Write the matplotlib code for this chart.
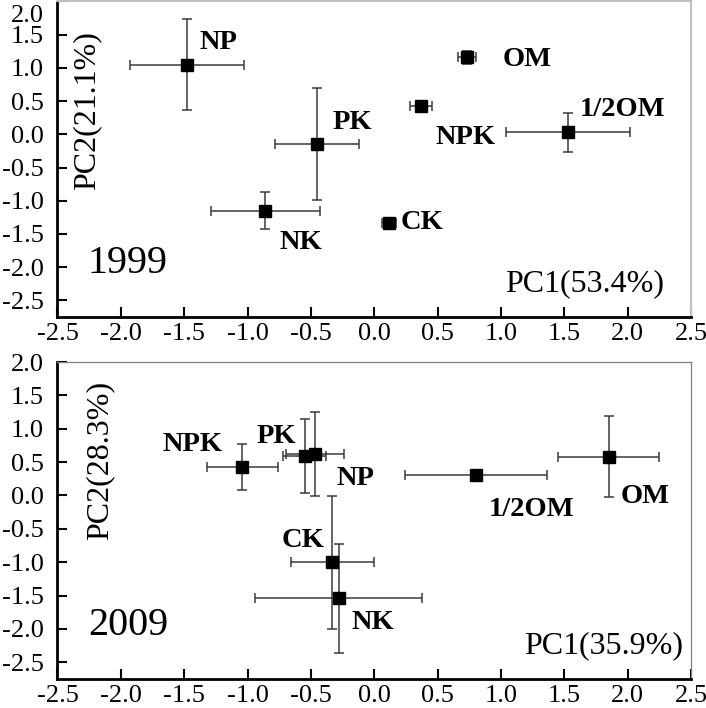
import matplotlib.pyplot as plt
import matplotlib.transforms as mtransforms
import numpy as np

plt.rcParams["font.family"] = ["Liberation Serif", "DejaVu Serif"]
plt.rcParams["axes.unicode_minus"] = False

# <---------------- 1999 ---------------->
names_99 = ["NP", "PK", "NK", "OM", "NPK", "1/2OM", "CK"]
pc1_99 = [-1.48, -0.45, -0.86, 0.73, 0.37, 1.53, 0.12]
pc2_99 = [1.05, -0.15, -1.15, 1.16, 0.43, 0.03, -1.33]
pc1_err_99 = [0.45, 0.33, 0.43, 0.07, 0.085, 0.49, 0.055]
pc2_err_99 = [0.69, 0.84, 0.28, 0.10, 0.05, 0.29, 0.04]

# <---------------- 2009 ---------------->
names_09 = ["NPK", "PK", "NP", "CK", "NK", "1/2OM", "OM"]
pc1_09 = [-1.04, -0.55, -0.47, -0.33, -0.28, 0.80, 1.85]
pc2_09 = [0.42, 0.59, 0.62, -1.00, -1.54, 0.31, 0.58]
pc1_err_09 = [0.28, 0.17, 0.23, 0.33, 0.66, 0.56, 0.40]
pc2_err_09 = [0.345, 0.56, 0.63, 0.995, 0.82, 0.06, 0.61]

xticks = np.arange(-2.5, 2.51, 0.5)
yticks = np.arange(-2.5, 2.01, 0.5)

# label positions (layout)
lab_99 = [(-1.23, 1.38), (-0.17, 0.18), (-0.58, -1.63), (1.21, 1.12),
          (0.72, -0.05), (1.96, 0.37), (0.38, -1.33)]
lab_09 = [(-1.43, 0.76), (-0.77, 0.89), (-0.15, 0.26), (-0.56, -0.68),
          (-0.01, -1.91), (1.24, -0.21), (2.14, -0.01)]


def panel(ax, x, y, xerr, yerr, names, labpos, year, pc1, pc2,
          frame_color, frame_lw, pc1_x, pc2_x, pc2_y):
    ax.errorbar(x, y, xerr=xerr, yerr=yerr, fmt="s", color="black",
                markersize=9, ecolor="#3a3a3a", elinewidth=1.1,
                capsize=3.5, capthick=1.1)
    for name, (lx, ly) in zip(names, labpos):
        ax.text(lx, ly, name, ha="center", va="center", fontsize=20.5,
                fontweight="bold")
    ax.set_xlim(-2.5, 2.5)
    ax.set_ylim(-2.75, 2.0)
    ax.set_xticks(xticks)
    ax.set_xticklabels(["%.1f" % t for t in xticks])
    ax.set_yticks(yticks)
    ax.set_yticklabels(["%.1f" % t for t in yticks])
    ax.tick_params(direction="in", length=7, width=1.5, labelsize=19)
    ax.tick_params(axis="y", pad=10)
    ax.tick_params(axis="x", pad=4)
    for s in ["left", "bottom"]:
        ax.spines[s].set_linewidth(2)
        ax.spines[s].set_color("black")
    for s in ["top", "right"]:
        ax.spines[s].set_linewidth(frame_lw)
        ax.spines[s].set_color(frame_color)
    ax.text(0.048, 0.17, year, transform=ax.transAxes, fontsize=29,
            ha="left", va="center")
    ax.text(pc1_x, 0.105, pc1, transform=ax.transAxes, fontsize=23,
            ha="right", va="center")
    ax.text(pc2_x, pc2_y, pc2, transform=ax.transAxes, fontsize=23,
            rotation=90, ha="center", va="center")


fig = plt.figure(figsize=(7.06, 7.08), dpi=100)
ax1 = fig.add_axes([0.0814, 0.5523, 0.8973, 0.4456])
ax2 = fig.add_axes([0.0814, 0.0410, 0.8973, 0.4477])

panel(ax1, pc1_99, pc2_99, pc1_err_99, pc2_err_99, names_99, lab_99,
      "1999", "PC1(53.4%)", "PC2(21.1%)", "#c0c0c0", 1.5, 0.958, 0.047, 0.655)
panel(ax2, pc1_09, pc2_09, pc1_err_09, pc2_err_09, names_09, lab_09,
      "2009", "PC1(35.9%)", "PC2(28.3%)", "#808080", 0.9, 0.988, 0.067, 0.688)

# top label of the upper panel sits a little lower so it stays inside the figure
top_lab = ax1.get_yticklabels()[-1]
top_lab.set_transform(top_lab.get_transform() +
                      mtransforms.ScaledTranslation(0, -12 / 100, fig.dpi_scale_trans))

plt.savefig("out.png", dpi=100)
